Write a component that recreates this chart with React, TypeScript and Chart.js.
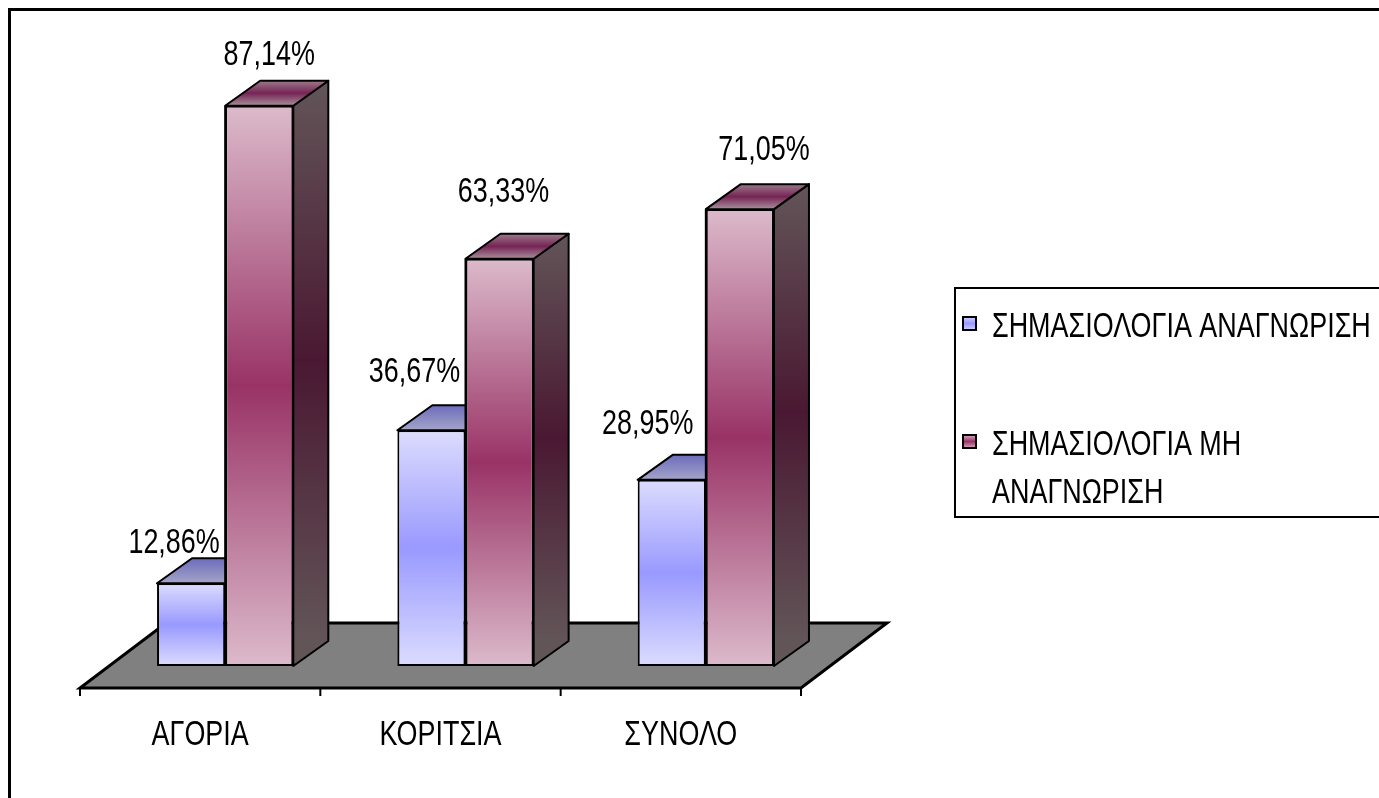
import React, { useEffect, useRef } from "react";
import { Chart, registerables } from "chart.js";

Chart.register(...registerables);

// ---- data ----
const categories = ["ΑΓΟΡΙΑ", "ΚΟΡΙΤΣΙΑ", "ΣΥΝΟΛΟ"];
const seriesNames = ["ΣΗΜΑΣΙΟΛΟΓΙΑ ΑΝΑΓΝΩΡΙΣΗ", "ΣΗΜΑΣΙΟΛΟΓΙΑ ΜΗ ΑΝΑΓΝΩΡΙΣΗ"];
const recognised = [12.86, 36.67, 28.95];
const notRecognised = [87.14, 63.33, 71.05];
const axisMin = 0;
const axisMax = 100;

// ---- look ----
const W = 1371;
const H = 790;
const FONT = '35px "Liberation Sans", Arial, Helvetica, sans-serif';
const SQUEEZE = 0.77; // narrow typeface look
const BAR_DX = 35; // bar depth (oblique projection)
const BAR_DY = -25;
const FLOOR_SHIFT_X = -25; // floor front edge relative to bar fronts
const FLOOR_SHIFT_Y = 22;
const FLOOR_DX = 86; // floor depth
const FLOOR_DY = -65;
// value-label placement [dx from bar centre, dy from bar top], per series and category
const labelNudge = [
  [[-17, -30], [-17, -48], [-24, -46]],
  [[10, -41], [4, -57], [24, -49]],
];

const fmt = (v: number) => v.toFixed(2).replace(".", ",") + "%";

function drawText(ctx: CanvasRenderingContext2D, text: string, x: number, y: number, align: CanvasTextAlign) {
  ctx.save();
  ctx.font = FONT;
  ctx.fillStyle = "#000";
  ctx.textBaseline = "alphabetic";
  ctx.textAlign = align;
  ctx.translate(x, y);
  ctx.scale(SQUEEZE, 1);
  ctx.fillText(text, 0, 0);
  ctx.restore();
}

function textWidth(ctx: CanvasRenderingContext2D, text: string) {
  ctx.save();
  ctx.font = FONT;
  const w = ctx.measureText(text).width * SQUEEZE;
  ctx.restore();
  return w;
}

function wrap(ctx: CanvasRenderingContext2D, text: string, maxW: number) {
  const words = text.split(" ");
  const lines: string[] = [];
  let cur = "";
  for (const w of words) {
    const t = cur ? cur + " " + w : w;
    if (cur && textWidth(ctx, t) > maxW) {
      lines.push(cur);
      cur = w;
    } else cur = t;
  }
  if (cur) lines.push(cur);
  return lines;
}

function vGrad(ctx: CanvasRenderingContext2D, y0: number, y1: number, edge: string, mid: string) {
  const g = ctx.createLinearGradient(0, y0, 0, y1);
  g.addColorStop(0, edge);
  g.addColorStop(0.5, mid);
  g.addColorStop(1, edge);
  return g;
}

function poly(ctx: CanvasRenderingContext2D, pts: number[][], fill: string | CanvasGradient) {
  ctx.beginPath();
  ctx.moveTo(pts[0][0], pts[0][1]);
  for (let i = 1; i < pts.length; i++) ctx.lineTo(pts[i][0], pts[i][1]);
  ctx.closePath();
  ctx.fillStyle = fill;
  ctx.fill();
  ctx.lineWidth = 2;
  ctx.strokeStyle = "#000";
  ctx.lineJoin = "round";
  ctx.stroke();
}

const frontColors = [
  { edge: "#dcdcfe", mid: "#9999ff" },
  { edge: "#dcbacb", mid: "#993366" },
];

function frontFill(index: number) {
  return (c: any) => {
    const chart = c.chart;
    const col = frontColors[index];
    if (!chart.chartArea || c.type !== "data") return col.mid;
    const y = chart.scales.y;
    const top = y.getPixelForValue(c.raw);
    const bot = y.getPixelForValue(0);
    return vGrad(chart.ctx, top, bot, col.edge, col.mid);
  };
}

function barBox(el: any) {
  const { x, y, base, width } = el.getProps(["x", "y", "base", "width"], true);
  return { xl: x - width / 2, xr: x + width / 2, x, y, base };
}

const bars3d = {
  id: "bars3d",
  beforeDraw(chart: any) {
    const ctx = chart.ctx;
    ctx.save();
    // outer frame
    ctx.lineWidth = 3;
    ctx.strokeStyle = "#000";
    ctx.beginPath();
    ctx.moveTo(1.5, H + 10);
    ctx.lineTo(1.5, 1.5);
    ctx.lineTo(W + 10, 1.5);
    ctx.stroke();
    ctx.restore();
  },
  beforeDatasetsDraw(chart: any) {
    const ctx = chart.ctx;
    const { left, right } = chart.chartArea;
    const base = chart.scales.y.getPixelForValue(axisMin);
    const fy = base + FLOOR_SHIFT_Y;
    const fl = left + FLOOR_SHIFT_X;
    const fr = right + FLOOR_SHIFT_X;
    ctx.save();
    ctx.beginPath();
    ctx.moveTo(fl, fy);
    ctx.lineTo(fr, fy);
    ctx.lineTo(fr + FLOOR_DX, fy + FLOOR_DY);
    ctx.lineTo(fl + FLOOR_DX, fy + FLOOR_DY);
    ctx.closePath();
    ctx.fillStyle = "#808080";
    ctx.fill();
    ctx.lineWidth = 3;
    ctx.strokeStyle = "#000";
    ctx.lineJoin = "miter";
    ctx.stroke();

    // category ticks on the front edge
    const xs = chart.scales.x;
    const bounds: number[] = [left];
    for (let i = 1; i < categories.length; i++) {
      bounds.push((xs.getPixelForValue(i - 1) + xs.getPixelForValue(i)) / 2);
    }
    bounds.push(right);
    ctx.lineWidth = 2;
    ctx.beginPath();
    for (const b of bounds) {
      ctx.moveTo(b + FLOOR_SHIFT_X, fy);
      ctx.lineTo(b + FLOOR_SHIFT_X, fy + 8);
    }
    ctx.stroke();
    ctx.restore();

    // category labels
    categories.forEach((c, i) => {
      drawText(ctx, c, xs.getPixelForValue(i) + FLOOR_SHIFT_X, fy + 57, "center");
    });
  },
  afterDatasetsDraw(chart: any) {
    const ctx = chart.ctx;
    const blue = chart.getDatasetMeta(0).data;
    const pink = chart.getDatasetMeta(1).data;
    ctx.save();
    categories.forEach((_, i) => {
      const b = barBox(blue[i]);
      const p = barBox(pink[i]);

      // top face of the front-left bar, hidden where the taller neighbour stands
      ctx.save();
      ctx.beginPath();
      ctx.rect(0, 0, p.xl, H);
      ctx.clip();
      const bg = ctx.createLinearGradient(0, b.y, 0, b.y + BAR_DY);
      bg.addColorStop(0, "#a4a4c8");
      bg.addColorStop(1, "#6c6cbc");
      poly(
        ctx,
        [
          [b.xl, b.y],
          [b.xr, b.y],
          [b.xr + BAR_DX, b.y + BAR_DY],
          [b.xl + BAR_DX, b.y + BAR_DY],
        ],
        bg
      );
      ctx.restore();

      // side face of the right bar
      poly(
        ctx,
        [
          [p.xr, p.y],
          [p.xr + BAR_DX, p.y + BAR_DY],
          [p.xr + BAR_DX, p.base + BAR_DY],
          [p.xr, p.base],
        ],
        vGrad(ctx, p.y + BAR_DY, p.base + BAR_DY, "#625558", "#4a1832")
      );
      // top face of the right bar
      const pg = ctx.createLinearGradient(0, p.y, 0, p.y + BAR_DY);
      pg.addColorStop(0, "#a8909c");
      pg.addColorStop(0.5, "#762455");
      pg.addColorStop(1, "#9c7a8a");
      poly(
        ctx,
        [
          [p.xl, p.y],
          [p.xr, p.y],
          [p.xr + BAR_DX, p.y + BAR_DY],
          [p.xl + BAR_DX, p.y + BAR_DY],
        ],
        pg
      );
      // re-ink the shared edge
      ctx.lineWidth = 2;
      ctx.strokeStyle = "#000";
      ctx.beginPath();
      ctx.moveTo(p.xl, p.y);
      ctx.lineTo(p.xl, p.base);
      ctx.stroke();
    });
    ctx.restore();

    // value labels
    [0, 1].forEach((di) => {
      const meta = chart.getDatasetMeta(di);
      const values = di === 0 ? recognised : notRecognised;
      meta.data.forEach((el: any, i: number) => {
        const { x, y } = el.getProps(["x", "y"], true);
        const [dx, dy] = labelNudge[di][i];
        drawText(ctx, fmt(values[i]), x + dx, y + dy, "center");
      });
    });

    // legend
    const boxL = 947;
    const boxT = 280;
    const boxB = 509;
    ctx.save();
    ctx.lineWidth = 2;
    ctx.strokeStyle = "#000";
    ctx.beginPath();
    ctx.moveTo(W + 10, boxT);
    ctx.lineTo(boxL, boxT);
    ctx.lineTo(boxL, boxB);
    ctx.lineTo(W + 10, boxB);
    ctx.stroke();
    const firstBaselines = [boxT + 49, boxT + 167];
    const markerCols = [
      { edge: "#d0d0ff", mid: "#9999ff" },
      { edge: "#d8aac0", mid: "#993366" },
    ];
    seriesNames.forEach((name, i) => {
      const bl = firstBaselines[i];
      const my = bl - 20;
      ctx.fillStyle = vGrad(ctx, my, my + 13, markerCols[i].edge, markerCols[i].mid);
      ctx.fillRect(955, my, 13, 13);
      ctx.lineWidth = 2;
      ctx.strokeRect(955, my, 13, 13);
      const lines = wrap(ctx, name, 395);
      lines.forEach((ln, k) => drawText(ctx, ln, 984, bl + k * 48, "left"));
    });
    ctx.restore();
  },
};

export default function App() {
  const ref = useRef<HTMLCanvasElement | null>(null);
  useEffect(() => {
    if (!ref.current) return;
    const chart = new Chart(ref.current, {
      type: "bar",
      data: {
        labels: categories,
        datasets: [
          {
            label: seriesNames[0],
            data: recognised,
            backgroundColor: frontFill(0),
            borderColor: "#000",
            borderWidth: 2,
            borderSkipped: false,
            categoryPercentage: 0.567,
            barPercentage: 1,
          },
          {
            label: seriesNames[1],
            data: notRecognised,
            backgroundColor: frontFill(1),
            borderColor: "#000",
            borderWidth: 2,
            borderSkipped: false,
            categoryPercentage: 0.567,
            barPercentage: 1,
          },
        ],
      },
      options: {
        responsive: false,
        animation: false,
        devicePixelRatio: 1,
        events: [],
        layout: { padding: { left: 97, right: 553, top: 15, bottom: 132 } },
        plugins: { legend: { display: false }, tooltip: { enabled: false }, title: { display: false } },
        scales: {
          x: { display: false, offset: true, grid: { display: false } },
          y: { display: false, min: axisMin, max: axisMax },
        },
      },
      plugins: [bars3d],
    });
    return () => chart.destroy();
  }, []);
  return (
    <div style={{ position: "fixed", left: 8, top: 8, width: W, height: H, background: "#fff" }}>
      <canvas ref={ref} width={W} height={H} style={{ display: "block" }} />
    </div>
  );
}
